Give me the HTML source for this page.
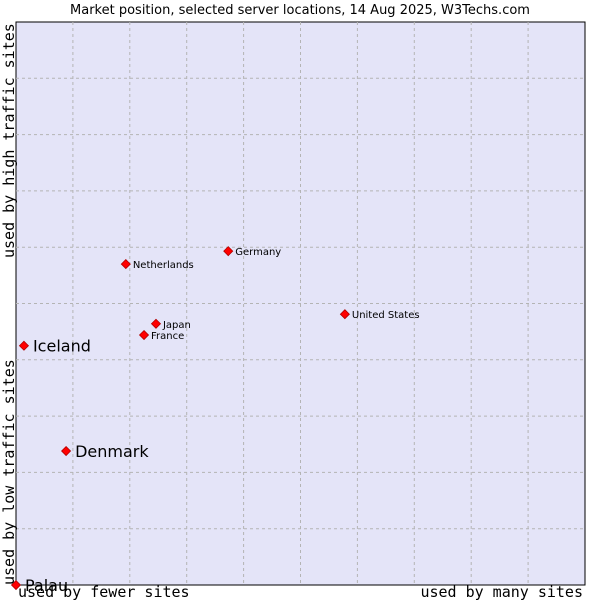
<!DOCTYPE html>
<html><head><meta charset="utf-8"><style>
body{margin:0;background:#fff;width:600px;height:600px;overflow:hidden}
svg{display:block}
</style></head><body>
<svg id="chart" width="600" height="600">
<text x="300" y="14" text-anchor="middle" font-family="'DejaVu Sans',sans-serif" font-size="13" fill="#000">Market position, selected server locations, 14 Aug 2025, W3Techs.com</text>
<rect x="16" y="22" width="569" height="563" fill="#e4e4f8" stroke="#000" stroke-width="1"/>
<g id="grid"></g>
<g id="pts"></g>
<text transform="translate(14,258) rotate(-90)" font-family="'DejaVu Sans Mono',monospace" font-size="15">used by high traffic sites</text>
<text transform="translate(14,585) rotate(-90)" font-family="'DejaVu Sans Mono',monospace" font-size="15">used by low traffic sites</text>
<text x="18" y="597" font-family="'DejaVu Sans Mono',monospace" font-size="15">used by fewer sites</text>
<text x="583" y="597" text-anchor="end" font-family="'DejaVu Sans Mono',monospace" font-size="15">used by many sites</text>
</svg>
<script>
const names=["Palau","Iceland","Denmark","Netherlands","Germany","Japan","France","United States"];
const xs=[0,1.4,8.8,19.3,37.3,24.6,22.5,57.8];
const ys=[0,42.5,23.8,57.0,59.3,46.4,44.4,48.1];
const big=[true,true,true,false,false,false,false,false];
const L=16,R=585,T=22,B=585;
const sx=v=>L+v/100*(R-L), sy=v=>B-v/100*(B-T);
const NS="http://www.w3.org/2000/svg";
const g=document.getElementById('grid');
for(let i=1;i<10;i++){
 const v=document.createElementNS(NS,'line');
 
 
 const x=sx(i*10);v.setAttribute('x1',x);v.setAttribute('x2',x);v.setAttribute('y1',T);v.setAttribute('y2',B);
 v.setAttribute('stroke','#b4b4b4');v.setAttribute('stroke-dasharray','3,3');g.appendChild(v);
 const h=document.createElementNS(NS,'line');
 
 
 const y=sy(i*10);h.setAttribute('x1',L);h.setAttribute('x2',R);h.setAttribute('y1',y);h.setAttribute('y2',y);
 h.setAttribute('stroke','#b4b4b4');h.setAttribute('stroke-dasharray','3,3');g.appendChild(h);
}
const p=document.getElementById('pts');
names.forEach((n,i)=>{
 const x=sx(xs[i]),y=sy(ys[i]);
 const d=document.createElementNS(NS,'path');
 
 
 d.setAttribute('d',`M${x} ${y-4.5}L${x+4.5} ${y}L${x} ${y+4.5}L${x-4.5} ${y}Z`);
 d.setAttribute('fill','#ff0000');d.setAttribute('stroke','#b00000');d.setAttribute('stroke-width','0.8');
 p.appendChild(d);
 const t=document.createElementNS(NS,'text');
 
 
 t.setAttribute('x',x+(big[i]?9:7));t.setAttribute('y',y+(big[i]?6:4));
 t.setAttribute('font-family',"'DejaVu Sans',sans-serif");
 t.setAttribute('font-size',big[i]?'16':'10');
 t.textContent=n;p.appendChild(t);
});
</script>
</body></html>
